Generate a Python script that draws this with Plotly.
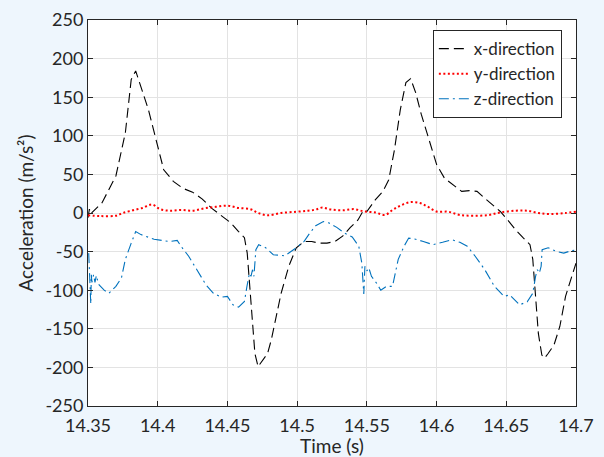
import plotly.graph_objects as go

# Time stamps (s) and acceleration (m/s^2) for each direction
t_x = [14.350, 14.351, 14.352, 14.353, 14.360, 14.370, 14.3768, 14.381, 14.3842, 14.3878,
       14.3933, 14.3988, 14.4043, 14.4112, 14.418, 14.425, 14.432, 14.4388, 14.4457,
       14.4526, 14.458, 14.4622, 14.4642, 14.4658, 14.4678, 14.4697, 14.472, 14.4747,
       14.4788, 14.4815, 14.4843, 14.4885, 14.494, 14.4994, 14.505, 14.5104, 14.516,
       14.5214, 14.527, 14.5326, 14.538, 14.5436, 14.5478, 14.5500, 14.556, 14.5615,
       14.5657, 14.5698, 14.574, 14.578, 14.5814, 14.585, 14.589, 14.5947, 14.600,
       14.6057, 14.6126, 14.618, 14.6236, 14.629, 14.6346, 14.640, 14.6457, 14.651,
       14.6567, 14.662, 14.667, 14.669, 14.671, 14.673, 14.6755, 14.6774, 14.680,
       14.6842, 14.6884, 14.6925, 14.697, 14.700]
acc_x = [-6, 5, -2, 1, 13, 48, 104, 173, 184, 164,
         134, 95, 56, 41, 32, 27, 18, 6, -4,
         -13, -24, -32, -52, -91, -138, -182, -199, -192,
         -182, -164, -138, -104, -69, -45, -37, -37, -39,
         -39, -37, -30, -19, -9, 4, 2, 17, 28,
         43, 82, 134, 169, 174, 156, 128, 95, 63,
         45, 35, 28, 29, 28, 19, 11, 2, -9,
         -22, -32, -41, -60, -104, -156, -184, -188, -182,
         -171, -147, -108, -82, -65]

t_y = [14.350, 14.359, 14.370, 14.375, 14.382, 14.389, 14.396, 14.4016, 14.4085, 14.4167,
       14.425, 14.4333, 14.4416, 14.450, 14.458, 14.4664, 14.472, 14.479, 14.4885,
       14.4995, 14.5078, 14.5133, 14.518, 14.5243, 14.5326, 14.541, 14.548, 14.556,
       14.563, 14.5685, 14.574, 14.581, 14.588, 14.5933, 14.600, 14.6085, 14.6167,
       14.6264, 14.6374, 14.6457, 14.657, 14.665, 14.673, 14.6815, 14.6925, 14.700]
acc_y = [-3, -4, -3.5, 0, 3.5, 6.5, 11, 5, 3, 4,
         3, 6, 8, 9.5, 6.5, 5, 0, -3, 0,
         1.6, 3, 4.5, 7, 4.5, 3.5, 5, 2, 0.7,
         -2.5, 4, 9.5, 14, 13, 8.5, 2, 1.6, -2.5,
         -3.5, -2.6, 0.7, 3, 3, 0, -1.3, 0, 1.6]

t_z = [14.3505, 14.351, 14.352, 14.3524, 14.3528, 14.354, 14.355, 14.356, 14.3575, 14.359,
       14.3616, 14.365, 14.370, 14.374, 14.3768, 14.381, 14.3842, 14.388, 14.392,
       14.3974, 14.403, 14.4085, 14.414, 14.4167, 14.4222, 14.4278, 14.4346, 14.440,
       14.4457, 14.450, 14.454, 14.458, 14.4622, 14.464, 14.4658, 14.4669, 14.468,
       14.469, 14.4704, 14.4724, 14.4774, 14.4829, 14.4912, 14.4994, 14.505, 14.5091,
       14.5133, 14.5188, 14.523, 14.5284, 14.534, 14.5395, 14.5442, 14.5464, 14.5478,
       14.5486, 14.550, 14.5514, 14.5533, 14.557, 14.560, 14.564, 14.5684, 14.5725,
       14.5767, 14.580, 14.585, 14.5905, 14.5974, 14.6043, 14.611, 14.6167, 14.622,
       14.6277, 14.6346, 14.6415, 14.6484, 14.6525, 14.6595, 14.665, 14.669, 14.671,
       14.6723, 14.6737, 14.675, 14.6757, 14.680, 14.6857, 14.6912, 14.6953, 14.700]
acc_z = [-52, -82, -118, -80, -90, -80, -90, -81, -92, -95,
         -100, -104, -95, -84, -60, -39, -24, -28, -31,
         -34, -35.5, -37, -35.5, -43, -56, -73.5, -93, -104,
         -109, -108, -119, -122, -114.6, -95, -78, -82, -73.5,
         -82, -47.6, -41, -45, -54, -55.4, -45, -36.8, -26,
         -16.5, -11, -13, -18.6, -26, -31, -43, -65, -105,
         -69, -75, -71, -82, -91, -100, -95, -95, -60,
         -43, -32.5, -34, -37, -41, -38, -34.6, -38, -43,
         -56, -73.5, -95, -108, -106, -119, -115, -104, -82,
         -73.5, -78, -69, -47.6, -45, -49.6, -52, -49.6, -47.6]

x_ticks = [14.35, 14.4, 14.45, 14.5, 14.55, 14.6, 14.65, 14.7]
x_labels = ["14.35", "14.4", "14.45", "14.5", "14.55", "14.6", "14.65", "14.7"]
y_ticks = [250, 200, 150, 100, 50, 0, -50, -100, -150, -200, -250]
y_labels = ["250", "200", "150", "100", "50", "0", "-50", "-100", "-150", "-200", "-250"]

FONT = "Lato, 'Open Sans', sans-serif"
INK = "#262626"

fig = go.Figure()
fig.add_trace(go.Scatter(x=t_x, y=acc_x, mode="lines", name="x-direction",
                         line=dict(color="#000000", width=1.1, dash="10px,5px")))
fig.add_trace(go.Scatter(x=t_y, y=acc_y, mode="lines", name="y-direction",
                         line=dict(color="#FF0000", width=2, dash="2px,2.5px", shape="spline")))
fig.add_trace(go.Scatter(x=t_z, y=acc_z, mode="lines", name="z-direction",
                         line=dict(color="#0072BD", width=1.1, dash="10px,4px,2px,4px")))

axis_common = dict(
    showline=True, linecolor=INK, linewidth=1, mirror="ticks",
    ticks="inside", ticklen=5, tickcolor=INK, tickwidth=1,
    showgrid=True, gridcolor="#E3E3E3", gridwidth=1,
    zeroline=False, automargin=False,
    tickfont=dict(family=FONT, size=18, color=INK),
)

fig.update_layout(
    width=604, height=457,
    margin=dict(l=88, r=28, t=20, b=51),
    paper_bgcolor="#EEF6FD", plot_bgcolor="#FFFFFF",
    font=dict(family=FONT, size=18, color=INK),
    xaxis=dict(range=[14.35, 14.7], tickvals=x_ticks, ticktext=x_labels,
               ticklabelstandoff=3,
               title=dict(text="Time (s)", font=dict(family=FONT, size=19, color=INK), standoff=0),
               **axis_common),
    yaxis=dict(range=[-250, 250], tickvals=y_ticks, ticktext=y_labels,
               title=dict(text="Acceleration (m/s²)", font=dict(family=FONT, size=19, color=INK), standoff=6),
               **axis_common),
    legend=dict(x=0.971, y=0.974, xanchor="right", yanchor="top",
                bgcolor="#FFFFFF", bordercolor=INK, borderwidth=1,
                font=dict(family=FONT, size=17, color=INK),
                tracegroupgap=0, itemwidth=30),
    showlegend=True,
)

fig.write_html("out.html")
